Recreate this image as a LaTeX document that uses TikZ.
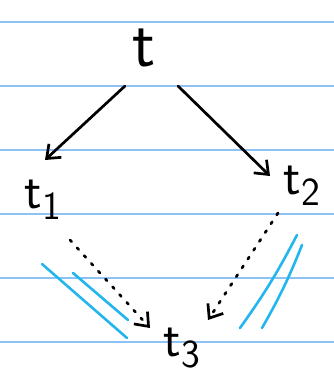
\documentclass[tikz,border=0pt]{standalone}
\usetikzlibrary{arrows.meta}
\definecolor{ruleline}{HTML}{8CC3F4}
\definecolor{markblue}{HTML}{22B5EE}
\newcommand{\lowidx}[1]{\kern1pt\raisebox{-0.22em}{\fontsize{34}{34}\selectfont#1}}
\tikzset{
  termnode/.style={inner sep=1pt, font=\sffamily\fontsize{44}{44}\selectfont},
  toparrow/.style={-{Straight Barb[length=3.5mm,width=5.5mm]}, line width=2.3pt, line cap=round},
  dotarrow/.style={toparrow, dash pattern=on 2pt off 7pt},
  eqmark/.style={markblue, line width=2.2pt, line cap=round}
}
\begin{document}
\begin{tikzpicture}[x=0.03cm, y=-0.03cm]
\useasboundingbox[fill=white] (0,0) rectangle (334,383);
% ruled paper
\foreach \y in {22,86,...,342}
  \draw[ruleline, line width=1pt] (0,\y) -- (334,\y);

\node[termnode, font=\sffamily\fontsize{58}{58}\selectfont] (t) at (144,48) {t};
\node[termnode] (t1) at (43,200) {t\lowidx{1}};
\node[termnode] (t2) at (302,186) {t\lowidx{2}};
\node[termnode] (t3) at (182,348) {t\lowidx{3}};

\draw[toparrow] ([shift={(-0.57cm,-1.14cm)}]t.center) -- ([shift={(0.06cm,1.2cm)}]t1.center);
\draw[toparrow] ([shift={(1.02cm,-1.14cm)}]t.center) -- ([shift={(-0.96cm,0.3cm)}]t2.center);
\draw[dotarrow] ([shift={(0.81cm,-1.2cm)}]t1.center) -- ([shift={(-0.96cm,0.6cm)}]t3.center);
\draw[dotarrow] ([shift={(-0.72cm,-0.81cm)}]t2.center) -- ([shift={(0.78cm,0.84cm)}]t3.center);

% blue marks
\draw[eqmark] (42,264) -- (127,338);
\draw[eqmark] (73,273) -- (128,320);
\draw[eqmark] (297,235) to[bend left=4] (240,328);
\draw[eqmark] (302,245) to[bend left=4] (262,328);
\end{tikzpicture}
\end{document}
